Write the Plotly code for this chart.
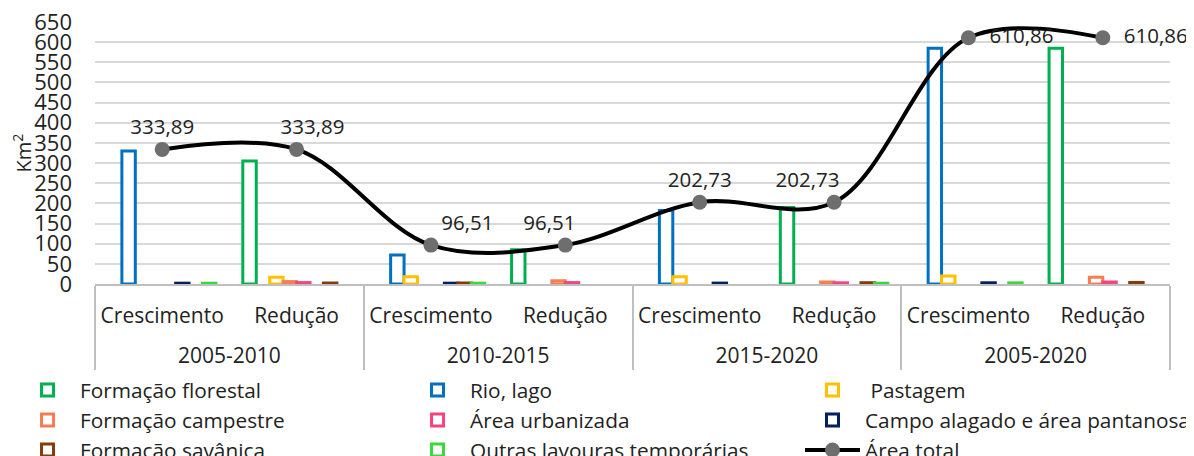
import plotly.graph_objects as go

periods = ["2005-2010", "2010-2015", "2015-2020", "2005-2020"]
changes = ["Crescimento", "Redução"]

# values per category: C05-10, R05-10, C10-15, R10-15, C15-20, R15-20, C05-20, R05-20
formacao_florestal = [None, 305, None, 85, None, 189.5, None, 585]
rio_lago = [330, None, 72, None, 182.5, None, 585, None]
pastagem = [None, 17, 18, None, 18, None, 20, None]
formacao_campestre = [None, 6, None, 8, None, 5, None, 17]
area_urbanizada = [None, 3.5, None, 3.5, None, 3, None, 5]
campo_alagado = [2, None, 2, None, 2.2, None, 3, None]
formacao_savanica = [None, 2.4, 2.5, None, None, 3.2, None, 3.86]
outras_lavouras = [1.9, None, 2, None, None, 2, 2.86, None]
area_total = [333.89, 333.89, 96.51, 96.51, 202.73, 202.73, 610.86, 610.86]
y_ticks = list(range(0, 651, 50))

# (name, values, colour, legend column)
series = [
    ("Formação florestal", formacao_florestal, "#00B050", "legend"),
    ("Rio, lago", rio_lago, "#0070C0", "legend2"),
    (" Pastagem", pastagem, "#FFC000", "legend3"),
    ("Formação campestre", formacao_campestre, "#F87D52", "legend"),
    ("Área urbanizada", area_urbanizada, "#F5457F", "legend2"),
    ("Campo alagado e área pantanosa", campo_alagado, "#002060", "legend3"),
    ("Formação savânica", formacao_savanica, "#843C0C", "legend"),
    ("Outras lavouras temporárias", outras_lavouras, "#3AD93A", "legend2"),
]

NB = "\u00a0"
# inner labels get a tiny empty second line so the period row sits lower, as in the reference
inner = [c + "<br><span style='font-size:2px'> </span>" for c in changes]
x = [[p for p in periods for _ in changes], [c for _ in periods for c in inner]]

FONT = "Open Sans"
fig = go.Figure()
for name, vals, col, leg in series:
    fig.add_trace(go.Bar(
        x=x, y=vals, name=name, legend=leg,
        marker=dict(color="white", line=dict(color=col, width=3)),
    ))

base = [f"{v:.2f}".replace(".", ",") for v in area_total]
pad_before = [0, 6, 0, 0, 0, 0, 2, 2]
pad_after = [0, 0, 0, 6, 0, 10, 0, 0]
labels = [NB * a + t + NB * b for t, a, b in zip(base, pad_before, pad_after)]
positions = ["top center", "top center", "top right", "top center",
             "top center", "top center", "middle right", "middle right"]
fig.add_trace(go.Scatter(
    x=x, y=area_total, name="Área total", legend="legend3",
    mode="lines+markers+text", cliponaxis=False,
    line=dict(color="black", width=4, shape="spline", smoothing=1.0),
    marker=dict(color="#6E6E6E", size=15),
    text=labels, textposition=positions,
    textfont=dict(size=20.5, color="#222222", family=FONT),
))

legend_common = dict(orientation="v", yanchor="top", xanchor="left", y=-0.328,
                     itemwidth=55, font=dict(size=20.8, family=FONT, color="#222222"),
                     bgcolor="rgba(0,0,0,0)", traceorder="normal", tracegroupgap=0)

fig.update_layout(
    width=1186, height=448,
    margin=dict(l=87, r=24, t=14, b=172, autoexpand=False),
    paper_bgcolor="white", plot_bgcolor="white",
    font=dict(family=FONT, size=18, color="#222222"),
    barmode="group", bargap=0.2, bargroupgap=0,
    showlegend=True,
    legend=dict(x=-0.0744, **legend_common),
    legend2=dict(x=0.2884, **legend_common),
    legend3=dict(x=0.6558, **legend_common),
)
fig.update_yaxes(range=[0, 650], tickmode="array", tickvals=y_ticks,
                 showgrid=True, gridcolor="#D9D9D9",
                 gridwidth=1.5, zeroline=False, showline=False,
                 tickfont=dict(size=22), ticks="", ticklabelstandoff=22,
                 ticklabeloverflow="allow",
                 title=dict(text="Km<sup>2</sup>", font=dict(size=20), standoff=0))
fig.update_xaxes(showline=True, linecolor="#BFBFBF", linewidth=1.5,
                 dividercolor="#BFBFBF", dividerwidth=1.5,
                 ticks="", ticklabelstandoff=12,
                 tickfont=dict(size=21), showgrid=False)

fig.write_html("out.html")
